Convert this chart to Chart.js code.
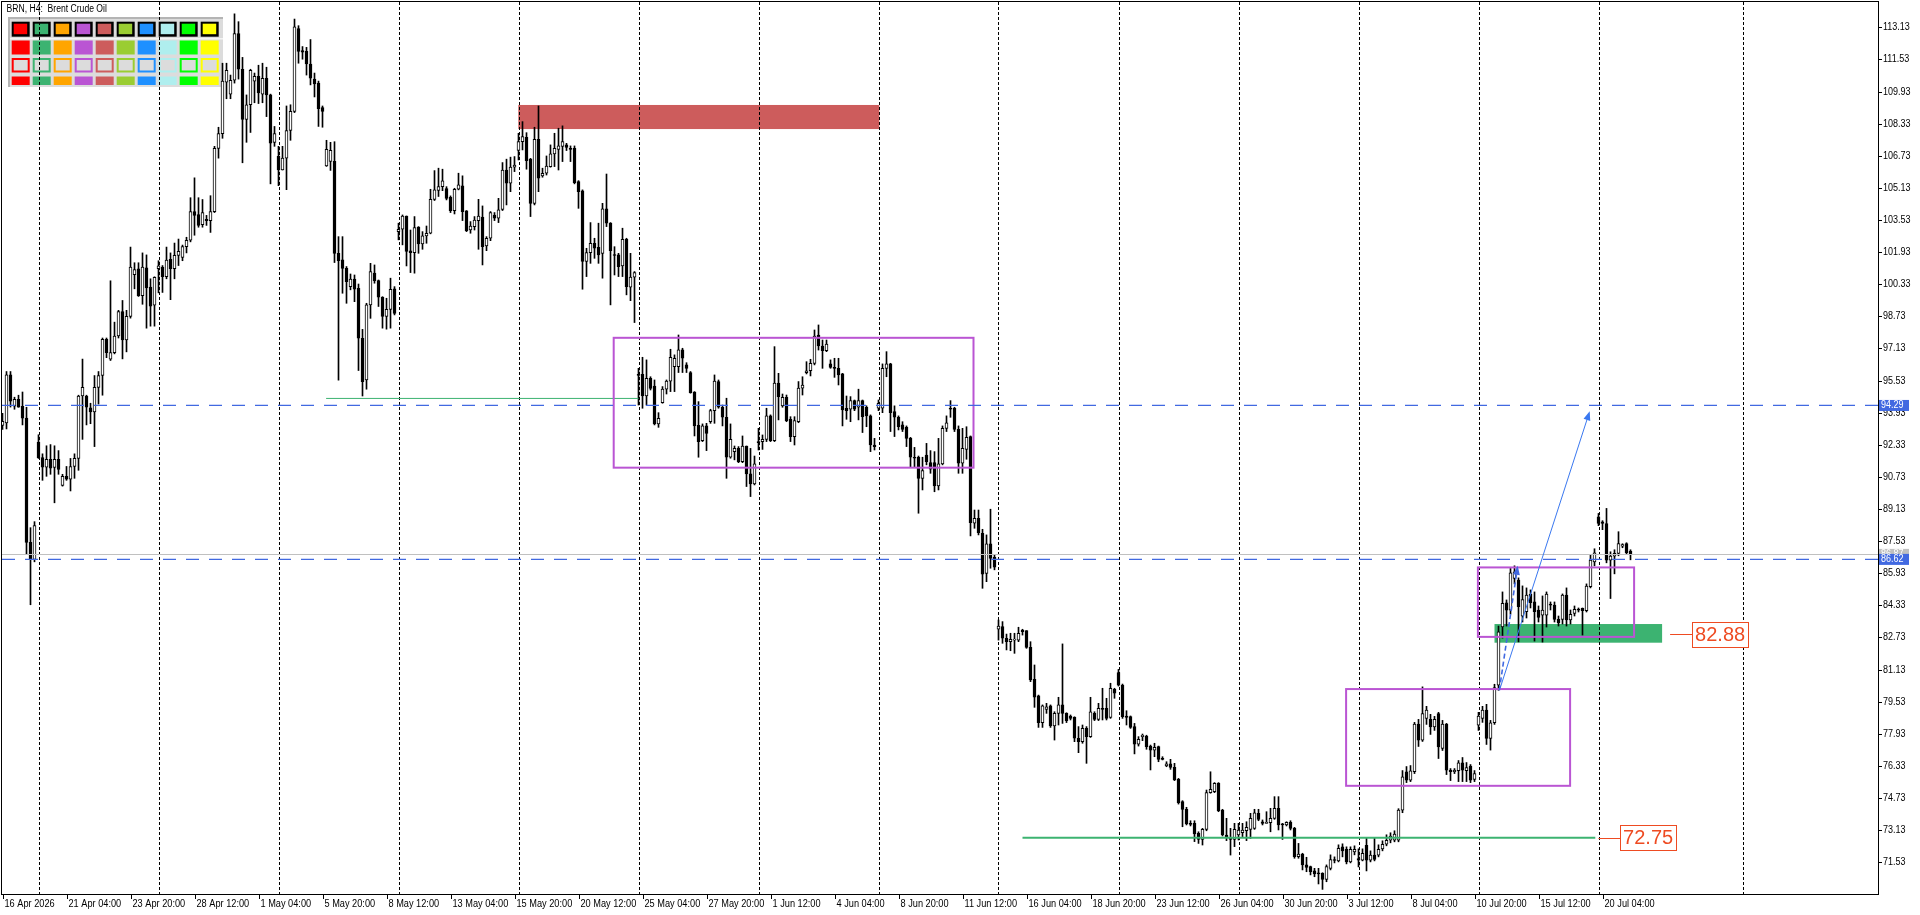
<!DOCTYPE html>
<html>
<head>
<meta charset="utf-8">
<title>BRN, H4: Brent Crude Oil</title>
<script src="https://cdn.jsdelivr.net/npm/chart.js@4.4.1/dist/chart.umd.min.js"></script>
<style>
  html, body { margin: 0; padding: 0; background: #fff; overflow: hidden; }
  #chart { display: block; }
</style>
</head>
<body>
<canvas id="chart" width="1920" height="915"></canvas>
<script>
// ---- data (bar index 0 = 16 Apr 12:00) ----
const tickLabels = ["16 Apr 2026", "21 Apr 04:00", "23 Apr 20:00", "28 Apr 12:00", "1 May 04:00", "5 May 20:00",
  "8 May 12:00", "13 May 04:00", "15 May 20:00", "20 May 12:00", "25 May 04:00", "27 May 20:00", "1 Jun 12:00",
  "4 Jun 04:00", "8 Jun 20:00", "11 Jun 12:00", "16 Jun 04:00", "18 Jun 20:00", "23 Jun 12:00", "26 Jun 04:00",
  "30 Jun 20:00", "3 Jul 12:00", "8 Jul 04:00", "10 Jul 20:00", "15 Jul 12:00", "20 Jul 04:00"];
const barsPerLabel = 16;

const yTicks = [71.53, 73.13, 74.73, 76.33, 77.93, 79.53, 81.13, 82.73, 84.33, 85.93, 87.53, 89.13, 90.73, 92.33,
  93.93, 95.53, 97.13, 98.73, 100.33, 101.93, 103.53, 105.13, 106.73, 108.33, 109.93, 111.53, 113.13];

// weekly separators (bar index)
const gridBars = [9, 39, 69, 99, 129, 159, 189, 219, 249, 279, 309, 339, 369, 399, 435];

const openP = [
  93.3, 93.42, 95.82, 94.25, 94.6, 94.25, 93.66, 87.47, 86.62, 92.47,
  91.69, 91.22, 91.6, 91.2, 91.6, 90.31, 90.76, 90.62, 91.25, 91.65,
  94.76, 94.76, 94.17, 93.97, 95.19, 95.78, 97.59, 96.6, 96.92, 97.75,
  98.97, 97.55, 98.73, 100.8, 101.1, 99.76, 101.14, 100.19, 99.29, 101.1,
  101.18, 100.7, 101.57, 101.1, 101.77, 101.67, 102.2, 102.52, 103.95, 103.8,
  103.3, 103.56, 103.5, 103.95, 107.1, 107.83, 110.4, 109.8, 110.49, 112.82,
  111.04, 108.54, 109.27, 110.45, 110.69, 109.8, 110.59, 109.76, 107.4, 106.7,
  106.02, 106.61, 107.99, 108.94, 113.07, 111.97, 111.93, 111.3, 110.55, 110.35,
  109.13, 106.22, 106.45, 106.45, 101.87, 101.54, 101.12, 100.21, 100.59, 100.13,
  97.64, 95.56, 99.3, 100.88, 100.51, 99.68, 98.72, 99.08, 100.1, 102.95,
  103.07, 103.73, 101.99, 101.9, 103.18, 102.34, 102.74, 102.87, 104.56, 105.0,
  105.19, 105.1, 104.66, 104.0, 105.06, 105.23, 103.98, 103.03, 103.2, 103.5,
  103.67, 102.24, 102.62, 103.78, 103.62, 104.06, 106.02, 105.36, 106.16, 106.99,
  107.43, 107.65, 106.56, 104.36, 107.55, 105.73, 105.86, 106.19, 106.82, 107.05,
  107.19, 107.27, 107.1, 107.1, 105.44, 104.98, 101.46, 101.9, 102.37, 102.17,
  101.87, 104.08, 103.37, 101.79, 101.79, 101.24, 102.57, 100.18, 100.68, 95.84,
  95.84, 94.76, 95.64, 95.26, 93.37, 94.43, 95.1, 95.5, 96.22, 96.22,
  97.06, 96.31, 95.93, 94.96, 93.3, 92.54, 93.27, 93.48, 94.03, 95.48,
  94.2, 93.7, 91.71, 91.99, 92.15, 91.49, 92.27, 90.88, 90.38, 92.49,
  92.49, 92.6, 93.77, 92.54, 95.4, 94.27, 94.7, 93.6, 92.74, 93.48,
  95.15, 95.92, 96.02, 96.39, 97.8, 97.25, 97.02, 96.36, 96.19, 96.14,
  95.86, 94.15, 94.1, 94.53, 94.2, 94.53, 94.2, 93.77, 92.32, 94.15,
  94.15, 96.14, 96.36, 93.98, 93.7, 93.32, 93.2, 92.65, 91.71, 91.71,
  90.66, 91.82, 91.44, 91.44, 90.28, 91.38, 93.15, 94.15, 94.15, 93.1,
  91.41, 92.1, 92.74, 88.43, 88.67, 87.92, 85.92, 87.39, 86.72, 83.14,
  83.27, 82.69, 82.52, 82.6, 82.6, 83.1, 83.07, 82.24, 80.65, 79.82,
  78.49, 79.15, 79.32, 78.32, 78.95, 79.37, 78.95, 78.82, 78.75, 77.71,
  77.54, 78.2, 77.79, 78.95, 78.65, 79.2, 79.2, 78.75, 80.15, 80.98,
  80.36, 78.82, 78.79, 78.29, 77.42, 77.79, 77.82, 77.32, 77.12, 77.29,
  76.71, 76.33, 76.43, 76.26, 75.66, 74.55, 74.17, 73.47, 73.47, 72.97,
  72.67, 73.17, 75.0, 75.05, 75.46, 74.13, 72.89, 72.72, 72.67, 72.89,
  73.0, 73.1, 73.17, 73.22, 73.97, 73.55, 73.47, 73.5, 73.72, 74.22,
  73.44, 73.39, 73.52, 73.22, 71.81, 71.94, 71.4, 71.31, 71.11, 71.01,
  70.98, 70.68, 71.22, 71.67, 71.6, 72.3, 72.17, 71.55, 72.05, 71.72,
  71.64, 72.38, 71.64, 71.89, 71.89, 72.2, 72.43, 72.63, 72.63, 72.63,
  74.13, 76.04, 75.62, 76.04, 78.41, 77.62, 78.7, 78.65, 78.28, 78.94,
  77.2, 78.41, 76.12, 76.04, 76.09, 76.49, 76.09, 76.32, 75.66, 78.36,
  78.7, 79.11, 77.7, 78.48, 80.36, 83.26, 84.46, 84.09, 85.67, 85.59,
  83.79, 84.01, 84.89, 84.51, 84.09, 83.84, 83.84, 84.39, 84.34, 83.63,
  83.63, 84.84, 83.6, 83.93, 84.13, 84.18, 84.06, 85.26, 86.5, 88.74,
  88.49, 88.41, 86.58, 86.78, 86.92, 87.28, 87.41, 87.03
];
const highP = [
  93.9, 95.98, 95.98, 94.7, 94.8, 94.96, 94.2, 88.2, 88.5, 92.83,
  91.88, 92.28, 92.34, 92.28, 92.04, 90.86, 91.25, 91.65, 91.88, 94.8,
  96.6, 94.8, 94.4, 95.78, 95.98, 97.65, 97.65, 100.5, 98.44, 99.03,
  99.52, 99.03, 102.18, 101.4, 101.4, 101.89, 101.79, 100.6, 100.7, 101.5,
  101.26, 102.18, 101.89, 102.38, 102.58, 102.28, 102.67, 104.64, 105.63, 104.64,
  104.55, 103.76, 104.74, 107.2, 108.15, 111.34, 111.34, 110.75, 113.8, 113.41,
  111.63, 109.76, 111.04, 110.85, 111.24, 111.34, 111.14, 109.8, 108.19, 107.2,
  107.2, 109.21, 109.27, 113.54, 113.21, 112.17, 112.13, 112.52, 110.85, 110.45,
  109.21, 107.5, 107.4, 107.43, 102.7, 102.7, 101.21, 100.84, 100.79, 100.34,
  98.08, 99.38, 101.37, 101.29, 100.54, 99.71, 99.63, 100.63, 100.21, 103.37,
  103.78, 103.73, 103.03, 103.7, 103.2, 102.95, 103.23, 105.06, 105.99, 106.11,
  106.06, 105.19, 104.73, 105.11, 105.86, 105.73, 104.0, 103.45, 103.7, 104.56,
  104.23, 102.7, 103.95, 103.9, 104.61, 106.39, 106.56, 106.66, 106.69, 107.85,
  108.43, 107.88, 106.6, 108.15, 109.21, 106.11, 106.72, 107.27, 107.85, 108.1,
  108.22, 107.35, 107.22, 107.22, 105.49, 105.03, 102.12, 103.4, 102.62, 103.37,
  104.36, 105.82, 103.4, 102.2, 101.87, 103.12, 102.62, 101.87, 100.96, 96.14,
  96.69, 96.56, 95.72, 95.56, 93.93, 95.23, 95.56, 97.09, 96.81, 97.8,
  97.14, 96.42, 95.98, 94.98, 94.48, 93.37, 93.4, 94.1, 95.81, 95.56,
  94.31, 94.65, 93.37, 92.27, 92.24, 92.77, 92.27, 92.15, 91.77, 93.15,
  92.82, 94.15, 93.82, 97.22, 95.89, 94.86, 94.81, 93.73, 93.73, 95.48,
  95.72, 96.47, 96.59, 98.05, 98.3, 97.55, 97.55, 96.56, 96.64, 96.64,
  95.89, 94.76, 94.73, 94.56, 95.1, 94.56, 94.27, 93.82, 92.65, 94.56,
  96.36, 96.97, 96.39, 94.27, 93.77, 93.48, 93.27, 92.7, 92.2, 91.77,
  91.71, 92.4, 92.04, 91.99, 92.65, 93.27, 93.77, 94.53, 94.2, 93.27,
  93.15, 93.23, 92.77, 89.08, 89.08, 88.12, 87.84, 89.12, 86.84, 83.6,
  83.52, 82.9, 82.94, 82.94, 83.24, 83.14, 83.07, 82.52, 81.36, 79.86,
  79.37, 79.45, 79.37, 79.03, 79.75, 82.41, 78.98, 78.87, 78.78, 78.29,
  78.37, 78.29, 79.75, 79.03, 79.45, 80.2, 79.7, 80.45, 80.2, 81.14,
  80.41, 79.08, 78.82, 78.45, 77.79, 77.92, 77.86, 77.37, 77.46, 77.32,
  76.79, 76.54, 76.66, 76.46, 75.71, 74.6, 74.27, 73.6, 73.6, 73.05,
  73.22, 75.13, 76.04, 75.5, 75.5, 74.17, 73.72, 73.22, 73.47, 73.47,
  73.47, 73.55, 73.97, 74.17, 74.17, 73.64, 74.05, 74.22, 74.8, 74.8,
  73.47, 73.55, 73.6, 73.27, 72.47, 71.98, 71.78, 71.34, 71.23, 71.23,
  71.01, 71.4, 71.9, 71.8, 72.4, 72.45, 72.3, 72.3, 72.35, 72.2,
  72.2, 72.75, 72.1, 72.75, 72.4, 72.6, 72.9, 73.0, 73.1, 74.2,
  76.1, 76.3, 76.35, 78.5, 78.65, 80.27, 79.3, 78.9, 78.8, 79.0,
  78.6, 78.45, 76.2, 76.2, 76.6, 76.75, 76.5, 76.4, 76.1, 79.0,
  79.3, 79.4, 78.6, 80.4, 83.3, 85.0, 84.6, 86.17, 86.3, 85.7,
  85.3, 85.2, 85.1, 85.0, 84.3, 84.8, 85.0, 84.5, 84.5, 83.8,
  84.9, 85.2, 84.1, 84.3, 84.2, 84.2, 85.4, 86.85, 87.15, 88.91,
  88.55, 89.16, 87.0, 87.1, 88.0, 87.4, 87.45, 87.1
];
const lowP = [
  93.1, 93.12, 94.21, 94.1, 94.2, 93.32, 86.9, 84.36, 86.5, 91.65,
  90.56, 90.76, 90.86, 89.44, 90.86, 90.27, 90.56, 90.03, 90.66, 91.06,
  92.6, 93.32, 93.38, 92.24, 94.36, 94.8, 96.67, 96.53, 96.86, 97.65,
  96.61, 96.96, 98.64, 100.1, 99.72, 99.33, 98.14, 98.24, 98.24, 99.9,
  99.92, 100.6, 99.56, 100.6, 101.26, 101.5, 101.89, 102.44, 102.77, 103.17,
  103.17, 103.26, 102.91, 103.9, 106.61, 107.6, 109.57, 109.57, 110.35, 110.55,
  106.38, 107.4, 107.89, 109.37, 109.33, 109.37, 108.68, 105.33, 107.2, 105.24,
  106.02, 105.04, 107.5, 108.88, 111.34, 111.54, 110.75, 110.26, 109.66, 108.19,
  108.15, 106.2, 106.0, 101.41, 95.55, 99.88, 99.38, 100.05, 99.46, 96.03,
  94.76, 95.1, 98.63, 100.38, 99.22, 98.14, 98.09, 98.14, 98.8, 102.54,
  102.29, 101.24, 100.91, 100.88, 101.87, 102.07, 102.37, 102.84, 104.5, 104.7,
  104.99, 104.53, 103.9, 103.83, 105.03, 103.5, 102.95, 102.87, 103.03, 102.07,
  101.29, 102.0, 102.5, 103.5, 103.4, 104.0, 104.28, 104.94, 105.94, 106.52,
  107.02, 106.06, 103.7, 104.28, 104.94, 105.66, 105.77, 106.16, 106.19, 106.02,
  106.44, 106.99, 106.44, 105.33, 104.11, 100.08, 100.71, 101.37, 101.62, 101.37,
  100.63, 103.2, 99.3, 100.79, 100.71, 100.71, 99.8, 99.51, 98.42, 94.31,
  94.15, 94.31, 95.06, 93.32, 93.2, 94.4, 94.86, 94.98, 94.98, 95.93,
  95.93, 95.93, 94.9, 92.77, 91.71, 92.49, 92.04, 93.4, 93.4, 94.15,
  93.27, 90.66, 91.66, 91.58, 91.44, 91.44, 90.25, 89.75, 90.33, 92.07,
  92.1, 92.49, 92.49, 92.49, 93.57, 94.2, 93.48, 92.49, 92.32, 93.43,
  94.81, 95.86, 95.76, 96.31, 97.05, 96.14, 96.97, 96.14, 95.69, 95.31,
  93.27, 93.6, 93.48, 94.03, 93.57, 92.94, 93.23, 91.99, 92.07, 94.03,
  93.93, 95.72, 92.99, 92.74, 93.07, 92.99, 92.24, 91.24, 91.24, 88.92,
  90.08, 91.33, 90.91, 89.99, 90.08, 91.33, 92.99, 93.7, 92.99, 90.91,
  90.91, 91.61, 87.79, 88.17, 87.84, 85.18, 85.51, 86.18, 86.1, 82.6,
  82.44, 82.11, 82.07, 81.94, 82.52, 82.85, 82.19, 80.53, 79.25, 78.25,
  78.25, 78.95, 78.25, 77.62, 78.37, 78.45, 78.49, 78.62, 77.54, 76.99,
  77.46, 76.46, 77.75, 78.59, 78.59, 78.62, 78.62, 78.7, 79.7, 80.31,
  78.7, 78.37, 78.2, 76.93, 77.32, 77.59, 77.16, 76.13, 76.79, 76.54,
  76.63, 76.29, 76.16, 75.6, 74.43, 73.3, 73.39, 73.34, 72.56, 72.47,
  72.39, 73.1, 74.97, 75.0, 74.05, 72.84, 72.61, 71.89, 72.31, 72.64,
  72.81, 72.61, 72.72, 73.17, 73.6, 73.39, 73.47, 73.05, 73.67, 73.14,
  72.67, 73.34, 73.14, 71.73, 71.73, 71.15, 71.06, 70.9, 70.81, 70.45,
  70.18, 70.56, 71.15, 71.5, 71.55, 71.8, 71.45, 71.5, 71.9, 71.3,
  71.6, 71.1, 71.55, 71.6, 71.8, 72.1, 72.35, 72.5, 72.55, 72.55,
  74.0, 75.5, 75.55, 75.95, 77.3, 77.55, 78.4, 77.9, 78.1, 76.7,
  77.1, 75.9, 75.6, 75.95, 75.55, 75.55, 75.55, 75.5, 75.55, 78.1,
  78.5, 77.4, 77.12, 78.4, 80.1, 82.7, 83.3, 83.9, 85.4, 82.51,
  83.5, 83.7, 84.2, 82.55, 83.5, 82.5, 83.25, 84.1, 83.5, 83.3,
  83.4, 83.3, 83.4, 83.8, 84.0, 82.85, 84.0, 85.2, 86.3, 88.3,
  88.1, 86.45, 84.67, 85.9, 86.8, 87.2, 86.9, 86.6
];
const closeP = [
  93.5, 95.82, 94.5, 94.6, 94.2, 93.66, 87.47, 86.62, 88.3, 91.69,
  91.22, 91.6, 91.16, 91.6, 91.1, 90.76, 90.62, 91.25, 91.65, 94.76,
  95.19, 94.21, 93.97, 95.19, 95.78, 97.59, 96.92, 96.92, 97.75, 98.97,
  97.55, 98.73, 101.18, 101.06, 99.76, 101.18, 100.15, 99.23, 100.67, 101.25,
  100.7, 101.53, 101.1, 101.77, 101.97, 102.2, 102.52, 103.95, 103.76, 103.26,
  103.9, 103.5, 103.95, 107.1, 107.83, 110.45, 110.98, 110.49, 112.82, 111.04,
  108.54, 109.27, 110.98, 110.69, 109.86, 110.59, 109.76, 107.36, 107.83, 106.02,
  106.61, 107.99, 108.94, 113.15, 111.93, 111.89, 111.3, 110.59, 110.31, 109.07,
  108.94, 107.05, 107.0, 101.87, 101.5, 101.12, 100.46, 100.59, 100.08, 97.64,
  95.48, 99.3, 100.96, 100.51, 99.68, 98.72, 99.08, 100.08, 98.88, 103.07,
  103.73, 101.96, 101.9, 103.15, 102.34, 102.74, 102.87, 104.56, 105.03, 105.19,
  105.48, 104.61, 104.0, 105.06, 105.28, 103.95, 103.0, 103.23, 103.53, 103.73,
  102.2, 102.62, 103.9, 103.62, 104.03, 106.02, 105.36, 106.16, 106.26, 107.43,
  107.68, 106.49, 104.36, 107.55, 105.61, 105.86, 106.22, 106.82, 107.1, 107.22,
  107.44, 107.15, 107.05, 105.39, 104.94, 101.46, 101.9, 102.37, 102.12, 101.79,
  104.08, 103.37, 102.0, 101.76, 101.21, 102.57, 100.21, 100.68, 100.91, 95.78,
  94.76, 95.64, 95.14, 93.37, 93.65, 95.1, 95.5, 96.69, 96.64, 97.06,
  96.64, 96.14, 94.93, 93.27, 92.49, 93.27, 92.9, 94.03, 95.51, 94.2,
  93.7, 91.71, 92.6, 92.15, 91.49, 92.27, 90.88, 90.38, 91.38, 92.44,
  92.6, 93.77, 92.54, 95.4, 94.73, 94.7, 93.53, 92.74, 93.53, 95.15,
  95.3, 96.02, 96.39, 97.75, 97.25, 97.02, 97.35, 96.19, 96.14, 95.81,
  94.07, 94.03, 94.53, 94.1, 94.53, 93.73, 93.77, 92.32, 92.24, 94.4,
  96.14, 96.36, 93.93, 93.7, 93.23, 93.1, 92.65, 91.71, 91.66, 90.66,
  91.04, 91.49, 91.11, 90.28, 91.38, 93.15, 93.43, 94.1, 93.1, 91.41,
  92.15, 92.7, 88.45, 88.67, 87.95, 85.89, 87.39, 86.67, 86.23, 83.3,
  82.69, 82.52, 82.64, 82.64, 82.94, 83.02, 82.24, 80.61, 79.75, 78.49,
  79.32, 79.28, 78.32, 78.95, 79.37, 78.95, 78.59, 78.7, 77.71, 77.54,
  78.2, 77.79, 79.03, 78.65, 79.2, 79.15, 78.7, 80.2, 79.95, 80.36,
  78.79, 78.75, 78.25, 77.42, 77.66, 77.86, 77.29, 77.12, 77.26, 76.66,
  76.66, 76.43, 76.26, 75.63, 74.5, 74.17, 73.44, 73.42, 72.94, 72.67,
  73.17, 75.0, 75.16, 75.46, 74.1, 72.89, 72.77, 72.67, 73.17, 73.14,
  73.14, 73.27, 73.72, 74.0, 73.67, 73.47, 73.52, 73.72, 74.22, 73.39,
  73.39, 73.52, 73.22, 71.81, 71.94, 71.4, 71.28, 71.06, 70.95, 70.95,
  70.68, 71.31, 71.67, 71.62, 72.22, 72.1, 71.55, 72.17, 72.17, 71.64,
  71.97, 71.64, 71.89, 71.67, 72.17, 72.43, 72.63, 72.83, 72.93, 74.13,
  75.79, 75.62, 76.09, 78.41, 77.62, 78.94, 79.11, 78.28, 78.65, 77.28,
  78.41, 76.12, 76.04, 76.12, 76.49, 76.12, 76.25, 75.62, 75.95, 78.81,
  79.11, 77.7, 78.48, 80.24, 83.01, 84.43, 84.09, 85.95, 86.0, 84.26,
  84.62, 84.84, 84.46, 84.01, 83.73, 84.09, 84.89, 84.34, 83.63, 83.46,
  84.84, 83.6, 83.88, 84.13, 84.09, 84.06, 85.29, 86.58, 86.95, 88.41,
  88.41, 86.58, 86.78, 86.92, 87.41, 87.36, 86.95, 86.87
];

// ---- drawn objects on the chart, in bar index / price ----
const levelLines = [94.29, 86.62];                       // dashed blue horizontal lines
const filledZones = [                                     // [fromBar, toBar, lowPrice, highPrice]
  [128.95, 219.2, 108.06, 109.26],
  [373, 414.9, 82.47, 83.4]
];
const zoneColors = ["#CD5C5C", "#3CB371"];
const boxes = [                                           // purple rectangles
  [152.8, 242.75, 91.19, 97.66],
  [335.9, 391.9, 75.34, 80.16],
  [368.85, 407.9, 82.76, 86.22]
];
const greenSegments = [                                   // [fromBar, toBar, price, width]
  [80.9, 159, 94.64, 1],
  [255, 398.2, 72.75, 2]
];
const arrows = [                                          // [fromBar, fromPrice, toBar, toPrice]
  [374.4, 80.2, 396.8, 94.0],
  [374.2, 80.1, 378.8, 86.3]
];
const priceTags = [                                       // [price, connectorStartBar, boxStartBar]
  [82.88, 416.9, 422.4],
  [72.75, 399.0, 404.4]
];
const paletteColors = ["#FF0000", "#3CB371", "#FFA500", "#BA55D3", "#CD5C5C",
  "#9ACD32", "#1E90FF", "#AFEEEE", "#00FF00", "#FFFF00"];

const FONT = "'Liberation Sans', Arial, sans-serif";

const wickData = highP.map((h, i) => ({ x: i, y: [lowP[i], h] }));
const bodyData = openP.map((o, i) => ({ x: i, y: [Math.min(o, closeP[i]), Math.max(o, closeP[i])] }));
const bodyFill = openP.map((o, i) => (closeP[i] >= o ? "#FFFFFF" : "#000000"));

function squeezeText(ctx, s, x, y, k) {
  ctx.fillText(s, x, y, ctx.measureText(s).width * (k || 0.9));
}

function drawArrow(ctx, x1, y1, x2, y2, dash, width, color) {
  const a = Math.atan2(y2 - y1, x2 - x1);
  const hl = 9, hw = 3.5;
  ctx.save();
  ctx.strokeStyle = color;
  ctx.lineWidth = width;
  ctx.setLineDash(dash);
  ctx.beginPath();
  ctx.moveTo(x1, y1);
  ctx.lineTo(x2 - Math.cos(a) * hl * 0.7, y2 - Math.sin(a) * hl * 0.7);
  ctx.stroke();
  ctx.setLineDash([]);
  ctx.fillStyle = color;
  ctx.beginPath();
  ctx.moveTo(x2, y2);
  ctx.lineTo(x2 - hl * Math.cos(a) + hw * Math.sin(a), y2 - hl * Math.sin(a) - hw * Math.cos(a));
  ctx.lineTo(x2 - hl * Math.cos(a) - hw * Math.sin(a), y2 - hl * Math.sin(a) + hw * Math.cos(a));
  ctx.closePath();
  ctx.fill();
  ctx.restore();
}

function drawPalette(ctx) {
  const x0 = 8, y0 = 17;
  ctx.fillStyle = "#DCDCDC";
  ctx.fillRect(x0, y0, 215, 70);
  ctx.fillStyle = "#B4B4B4";
  ctx.fillRect(x0, y0, 215, 2);
  ctx.fillRect(x0, y0, 2, 70);
  ctx.fillStyle = "#F4F4F4";
  ctx.fillRect(x0 + 2, y0 + 21, 213, 1.5);
  paletteColors.forEach((c, k) => {
    const x = 11.7 + 21 * k;
    // row 1: framed swatches
    ctx.fillStyle = "#000";
    ctx.fillRect(x, 21.7, 18, 15);
    ctx.fillStyle = c;
    ctx.fillRect(x + 2, 23.7, 13.5, 10.5);
    // row 2: solid swatches
    ctx.fillRect(x, 40.5, 18, 14);
    // row 3: outlined swatches
    ctx.strokeStyle = c;
    ctx.lineWidth = 2;
    ctx.strokeRect(x + 1, 59, 16, 12.5);
    // row 4: thin bars
    ctx.fillRect(x, 76.5, 18, 8.5);
  });
  ctx.fillStyle = "#000";
  ctx.font = "10px " + FONT;
  ctx.textAlign = "left";
  ctx.textBaseline = "middle";
  squeezeText(ctx, "BRN, H4:  Brent Crude Oil", 6.5, 9, 0.86);
}

const mtPlugin = {
  id: "mtOverlay",
  beforeDraw(chart) {
    const ctx = chart.ctx;
    ctx.save();
    ctx.fillStyle = "#FFFFFF";
    ctx.fillRect(0, 0, chart.width, chart.height);
    ctx.restore();
  },
  beforeDatasetsDraw(chart) {
    const { ctx, chartArea: ca, scales: { x, y } } = chart;
    ctx.save();
    drawPalette(ctx);
    ctx.beginPath();
    ctx.rect(ca.left, ca.top, ca.right - ca.left, ca.bottom - ca.top);
    ctx.clip();
    filledZones.forEach((z, k) => {
      const x1 = x.getPixelForValue(z[0]), x2 = x.getPixelForValue(z[1]);
      const y1 = y.getPixelForValue(z[3]), y2 = y.getPixelForValue(z[2]);
      ctx.fillStyle = zoneColors[k];
      ctx.fillRect(x1, y1, x2 - x1, y2 - y1);
    });
    ctx.strokeStyle = "#000";
    ctx.lineWidth = 1;
    ctx.setLineDash([3, 2]);
    gridBars.forEach(b => {
      const px = Math.round(x.getPixelForValue(b)) + 0.5;
      ctx.beginPath();
      ctx.moveTo(px, ca.top);
      ctx.lineTo(px, ca.bottom);
      ctx.stroke();
    });
    ctx.restore();
  },
  afterDatasetsDraw(chart) {
    const { ctx, chartArea: ca, scales: { x, y } } = chart;
    const last = closeP[closeP.length - 1];
    ctx.save();
    ctx.beginPath();
    ctx.rect(ca.left, ca.top, ca.right - ca.left, ca.bottom - ca.top);
    ctx.clip();

    // green horizontal segments
    ctx.strokeStyle = "#3CB371";
    greenSegments.forEach(g => {
      ctx.lineWidth = g[3];
      const py = y.getPixelForValue(g[2]);
      ctx.beginPath();
      ctx.moveTo(x.getPixelForValue(g[0]), py);
      ctx.lineTo(x.getPixelForValue(g[1]), py);
      ctx.stroke();
    });

    // purple rectangles
    ctx.strokeStyle = "#BA55D3";
    ctx.lineWidth = 2;
    boxes.forEach(b => {
      const x1 = x.getPixelForValue(b[0]), x2 = x.getPixelForValue(b[1]);
      const y1 = y.getPixelForValue(b[3]), y2 = y.getPixelForValue(b[2]);
      ctx.strokeRect(x1, y1, x2 - x1, y2 - y1);
    });

    // bid line
    ctx.strokeStyle = "#C0C0C0";
    ctx.lineWidth = 1;
    let py = Math.round(y.getPixelForValue(last)) + 0.5;
    ctx.beginPath();
    ctx.moveTo(ca.left, py);
    ctx.lineTo(ca.right, py);
    ctx.stroke();

    // dashed level lines
    ctx.strokeStyle = "#4169E1";
    ctx.lineWidth = 1.3;
    ctx.setLineDash([13, 10]);
    levelLines.forEach(p => {
      const ly = y.getPixelForValue(p);
      ctx.beginPath();
      ctx.moveTo(ca.left, ly);
      ctx.lineTo(ca.right, ly);
      ctx.stroke();
    });
    ctx.setLineDash([]);

    // arrows
    drawArrow(ctx, x.getPixelForValue(arrows[0][0]), y.getPixelForValue(arrows[0][1]),
      x.getPixelForValue(arrows[0][2]), y.getPixelForValue(arrows[0][3]), [], 1, "#3A78F0");
    drawArrow(ctx, x.getPixelForValue(arrows[1][0]), y.getPixelForValue(arrows[1][1]),
      x.getPixelForValue(arrows[1][2]), y.getPixelForValue(arrows[1][3]), [5, 3], 1.6, "#4169E1");

    // price tags with connector line
    ctx.font = "20px " + FONT;
    ctx.textBaseline = "middle";
    ctx.textAlign = "left";
    priceTags.forEach(t => {
      const ty = y.getPixelForValue(t[0]);
      const xs = x.getPixelForValue(t[1]), xb = x.getPixelForValue(t[2]);
      const label = t[0].toFixed(2);
      const w = ctx.measureText(label).width + 6;
      ctx.strokeStyle = "#EE4B22";
      ctx.lineWidth = 1;
      ctx.beginPath();
      ctx.moveTo(xs, Math.round(ty) + 0.5);
      ctx.lineTo(xb, Math.round(ty) + 0.5);
      ctx.stroke();
      ctx.fillStyle = "#FFFFFF";
      ctx.fillRect(xb, ty - 12.5, w, 25);
      ctx.strokeRect(Math.round(xb) + 0.5, Math.round(ty - 12.5) + 0.5, Math.round(w), 25);
      ctx.fillStyle = "#EE4B22";
      ctx.fillText(label, xb + 3, ty + 1);
    });
    ctx.restore();

    // frame and axes
    ctx.save();
    ctx.strokeStyle = "#000";
    ctx.lineWidth = 1;
    ctx.strokeRect(ca.left - 0.5, ca.top - 0.5, ca.right - ca.left + 1, ca.bottom - ca.top + 1);
    ctx.font = "10px " + FONT;
    ctx.fillStyle = "#000";
    ctx.textAlign = "left";
    ctx.textBaseline = "middle";
    yTicks.forEach(v => {
      const ty = Math.round(y.getPixelForValue(v)) + 0.5;
      ctx.beginPath();
      ctx.moveTo(ca.right, ty);
      ctx.lineTo(ca.right + 4, ty);
      ctx.stroke();
      squeezeText(ctx, v.toFixed(2), ca.right + 5, ty, 0.9);
    });
    ctx.textBaseline = "top";
    tickLabels.forEach((s, k) => {
      const tx = Math.round(x.getPixelForValue(k * barsPerLabel)) + 0.5;
      ctx.beginPath();
      ctx.moveTo(tx, ca.bottom);
      ctx.lineTo(tx, ca.bottom + 5);
      ctx.stroke();
      squeezeText(ctx, s, tx + 1, ca.bottom + 5, 0.92);
    });

    // axis price markers: bid (grey) then the two levels (blue)
    const tag = (p, bg) => {
      const ty = y.getPixelForValue(p);
      ctx.fillStyle = bg;
      ctx.fillRect(ca.right + 1, ty - 5.5, 30, 11);
      ctx.fillStyle = "#FFFFFF";
      ctx.textBaseline = "middle";
      squeezeText(ctx, p.toFixed(2), ca.right + 3, ty, 0.9);
    };
    tag(last, "#C0C0C0");
    levelLines.forEach(p => tag(p, "#4169E1"));
    ctx.restore();
  }
};

new Chart(document.getElementById("chart").getContext("2d"), {
  type: "bar",
  data: {
    datasets: [
      { label: "wick", data: wickData, backgroundColor: "#000000", borderWidth: 0,
        barThickness: 1, grouped: false, order: 2 },
      { label: "body", data: bodyData, backgroundColor: bodyFill, borderColor: "#000000",
        borderWidth: 1, borderSkipped: false, barThickness: 3, minBarLength: 1, grouped: false, order: 1 }
    ]
  },
  options: {
    animation: false,
    responsive: false,
    devicePixelRatio: 1,
    layout: { padding: { left: 2, top: 2, right: 42, bottom: 21 } },
    plugins: { legend: { display: false }, tooltip: { enabled: false }, title: { display: false } },
    scales: {
      x: { type: "linear", display: false, offset: false, min: -0.125, max: 468.875 },
      y: { type: "linear", display: false, min: 69.95, max: 114.39 }
    }
  },
  plugins: [mtPlugin]
});
</script>
</body>
</html>
